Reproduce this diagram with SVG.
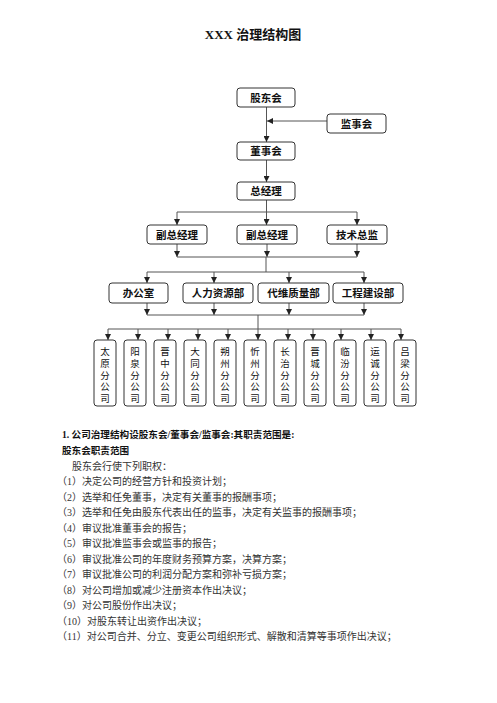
<svg xmlns="http://www.w3.org/2000/svg" width="497" height="703" viewBox="0 0 497 703">
<defs>
<marker id="ah" markerUnits="userSpaceOnUse" markerWidth="6" markerHeight="6" viewBox="0 0 6 6" refX="6" refY="3" orient="auto">
<path d="M0,0 L6,3 L0,6 Z" fill="#222"/>
</marker>
<style>
.bx{fill:#fff;stroke:#333;stroke-width:1}
.ln{fill:none;stroke:#555;stroke-width:1}
.ar{fill:none;stroke:#555;stroke-width:1;marker-end:url(#ah)}
.t{font-family:"Liberation Sans","Noto Sans CJK SC",sans-serif;font-size:10.5px;font-weight:bold;fill:#111;text-anchor:middle}
.v{font-family:"Liberation Serif","Noto Sans CJK SC",serif;font-size:9.5px;fill:#111;text-anchor:middle}
.b{font-family:"Liberation Serif","Noto Sans CJK SC",serif;font-size:10px;fill:#333}
.bb{font-family:"Liberation Serif","Noto Sans CJK SC",serif;font-size:9.6px;font-weight:bold;fill:#111}
</style>
</defs>
<rect width="497" height="703" fill="#fff"/>
<text x="253" y="39" style="font-family:'Liberation Serif','Noto Sans CJK SC',serif;font-size:13px;font-weight:bold;fill:#111;text-anchor:middle">XXX 治理结构图</text>

<g id="connectors">
<path class="ar" d="M266.5 107 V142"/>
<path class="ar" d="M327 121 H267"/>
<path class="ar" d="M266.5 160 V182"/>
<path class="ln" d="M266.5 200 V212 M177 212 H357"/>
<path class="ar" d="M177 212 V225"/>
<path class="ar" d="M266.5 212 V225"/>
<path class="ar" d="M357 212 V225"/>
<path class="ar" d="M177 244 V257"/>
<path class="ar" d="M267 244 V257"/>
<path class="ar" d="M357 244 V257"/>
<path class="ln" d="M177 257 H357 M266 257 V272 M147 272 H364"/>
<path class="ar" d="M147 272 V283"/>
<path class="ar" d="M214 272 V283"/>
<path class="ar" d="M289 272 V283"/>
<path class="ar" d="M364 272 V283"/>
<path class="ar" d="M147 303 V315"/>
<path class="ar" d="M214 303 V315"/>
<path class="ar" d="M289 303 V315"/>
<path class="ar" d="M364 303 V315"/>
<path class="ln" d="M147 315 H364 M258 315 V329 M108 329 H401"/>
<path class="ar" d="M108 329 V340"/>
<path class="ar" d="M138 329 V340"/>
<path class="ar" d="M168 329 V340"/>
<path class="ar" d="M198 329 V340"/>
<path class="ar" d="M228 329 V340"/>
<path class="ar" d="M258 329 V340"/>
<path class="ar" d="M288 329 V340"/>
<path class="ar" d="M313 329 V340"/>
<path class="ar" d="M341 329 V340"/>
<path class="ar" d="M371 329 V340"/>
<path class="ar" d="M401 329 V340"/>
</g>

<g id="gudonghui"><rect class="bx" x="237" y="88" width="58" height="19" rx="3"/><text class="t" x="266" y="101.5">股东会</text></g>
<g id="jianshihui"><rect class="bx" x="327" y="114" width="59" height="19" rx="3"/><text class="t" x="356.5" y="127.5">监事会</text></g>
<g id="dongshihui"><rect class="bx" x="237" y="142" width="58" height="18" rx="3"/><text class="t" x="266" y="155">董事会</text></g>
<g id="zongjingli"><rect class="bx" x="237" y="182" width="58" height="18" rx="3"/><text class="t" x="266" y="195">总经理</text></g>

<g id="fuzong1"><rect class="bx" x="147" y="225" width="60" height="19" rx="3"/><text class="t" x="177" y="238.5">副总经理</text></g>
<g id="fuzong2"><rect class="bx" x="237" y="225" width="60" height="19" rx="3"/><text class="t" x="267" y="238.5">副总经理</text></g>
<g id="jishuzongjian"><rect class="bx" x="327" y="225" width="60" height="19" rx="3"/><text class="t" x="357" y="238.5">技术总监</text></g>

<g id="bangongshi"><rect class="bx" x="109" y="283" width="59" height="20" rx="3"/><text class="t" x="138.5" y="297">办公室</text></g>
<g id="renli"><rect class="bx" x="183" y="283" width="70" height="20" rx="3"/><text class="t" x="218" y="297">人力资源部</text></g>
<g id="daiwei"><rect class="bx" x="258" y="283" width="71" height="20" rx="3"/><text class="t" x="293.5" y="297">代维质量部</text></g>
<g id="gongcheng"><rect class="bx" x="333" y="283" width="70" height="20" rx="3"/><text class="t" x="368" y="297">工程建设部</text></g>

<g id="taiyuan"><rect class="bx" x="94" y="340" width="22" height="66" rx="3"/><text class="v"><tspan x="105" y="355">太</tspan><tspan x="105" y="366.8">原</tspan><tspan x="105" y="378.6">分</tspan><tspan x="105" y="390.4">公</tspan><tspan x="105" y="402.2">司</tspan></text></g>
<g id="yangquan"><rect class="bx" x="124" y="340" width="22" height="66" rx="3"/><text class="v"><tspan x="135" y="355">阳</tspan><tspan x="135" y="366.8">泉</tspan><tspan x="135" y="378.6">分</tspan><tspan x="135" y="390.4">公</tspan><tspan x="135" y="402.2">司</tspan></text></g>
<g id="jinzhong"><rect class="bx" x="154" y="340" width="22" height="66" rx="3"/><text class="v"><tspan x="165" y="355">晋</tspan><tspan x="165" y="366.8">中</tspan><tspan x="165" y="378.6">分</tspan><tspan x="165" y="390.4">公</tspan><tspan x="165" y="402.2">司</tspan></text></g>
<g id="datong"><rect class="bx" x="184" y="340" width="22" height="66" rx="3"/><text class="v"><tspan x="195" y="355">大</tspan><tspan x="195" y="366.8">同</tspan><tspan x="195" y="378.6">分</tspan><tspan x="195" y="390.4">公</tspan><tspan x="195" y="402.2">司</tspan></text></g>
<g id="shuozhou"><rect class="bx" x="214" y="340" width="22" height="66" rx="3"/><text class="v"><tspan x="225" y="355">朔</tspan><tspan x="225" y="366.8">州</tspan><tspan x="225" y="378.6">分</tspan><tspan x="225" y="390.4">公</tspan><tspan x="225" y="402.2">司</tspan></text></g>
<g id="xinzhou"><rect class="bx" x="244" y="340" width="22" height="66" rx="3"/><text class="v"><tspan x="255" y="355">忻</tspan><tspan x="255" y="366.8">州</tspan><tspan x="255" y="378.6">分</tspan><tspan x="255" y="390.4">公</tspan><tspan x="255" y="402.2">司</tspan></text></g>
<g id="changzhi"><rect class="bx" x="274" y="340" width="22" height="66" rx="3"/><text class="v"><tspan x="285" y="355">长</tspan><tspan x="285" y="366.8">治</tspan><tspan x="285" y="378.6">分</tspan><tspan x="285" y="390.4">公</tspan><tspan x="285" y="402.2">司</tspan></text></g>
<g id="jincheng"><rect class="bx" x="304" y="340" width="22" height="66" rx="3"/><text class="v"><tspan x="315" y="355">晋</tspan><tspan x="315" y="366.8">城</tspan><tspan x="315" y="378.6">分</tspan><tspan x="315" y="390.4">公</tspan><tspan x="315" y="402.2">司</tspan></text></g>
<g id="linfen"><rect class="bx" x="334" y="340" width="22" height="66" rx="3"/><text class="v"><tspan x="345" y="355">临</tspan><tspan x="345" y="366.8">汾</tspan><tspan x="345" y="378.6">分</tspan><tspan x="345" y="390.4">公</tspan><tspan x="345" y="402.2">司</tspan></text></g>
<g id="yuncheng"><rect class="bx" x="364" y="340" width="22" height="66" rx="3"/><text class="v"><tspan x="375" y="355">运</tspan><tspan x="375" y="366.8">诚</tspan><tspan x="375" y="378.6">分</tspan><tspan x="375" y="390.4">公</tspan><tspan x="375" y="402.2">司</tspan></text></g>
<g id="lvliang"><rect class="bx" x="394" y="340" width="22" height="66" rx="3"/><text class="v"><tspan x="405" y="355">吕</tspan><tspan x="405" y="366.8">梁</tspan><tspan x="405" y="378.6">分</tspan><tspan x="405" y="390.4">公</tspan><tspan x="405" y="402.2">司</tspan></text></g>

<g id="body">
<text class="bb" x="62" y="438">1. 公司治理结构设股东会/董事会/监事会:其职责范围是:</text>
<text class="bb" x="62" y="454">股东会职责范围</text>
<text class="b" x="72" y="469.5">股东会行使下列职权：</text>
<text class="b" x="57" y="485">（1）决定公司的经营方针和投资计划；</text>
<text class="b" x="57" y="500.5">（2）选举和任免董事，决定有关董事的报酬事项；</text>
<text class="b" x="57" y="516">（3）选举和任免由股东代表出任的监事，决定有关监事的报酬事项；</text>
<text class="b" x="57" y="531.5">（4）审议批准董事会的报告；</text>
<text class="b" x="57" y="547">（5）审议批准监事会或监事的报告；</text>
<text class="b" x="57" y="562.5">（6）审议批准公司的年度财务预算方案，决算方案；</text>
<text class="b" x="57" y="578">（7）审议批准公司的利润分配方案和弥补亏损方案；</text>
<text class="b" x="57" y="593.5">（8）对公司增加或减少注册资本作出决议；</text>
<text class="b" x="57" y="609">（9）对公司股份作出决议；</text>
<text class="b" x="57" y="624.5">（10）对股东转让出资作出决议；</text>
<text class="b" x="57" y="640">（11）对公司合并、分立、变更公司组织形式、解散和清算等事项作出决议；</text>
</g>
</svg>
